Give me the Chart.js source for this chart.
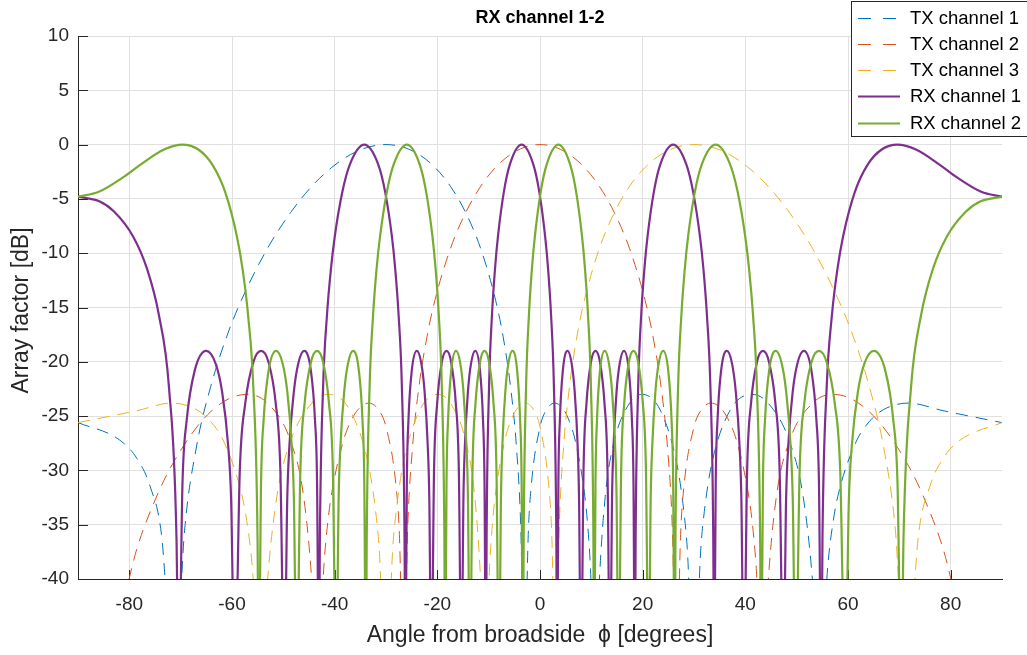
<!DOCTYPE html>
<html><head><meta charset="utf-8">
<script src="https://cdn.jsdelivr.net/npm/chart.js@4.4.0/dist/chart.umd.min.js"></script>
<style>html,body{margin:0;padding:0;background:#fff;}#wrap{width:1027px;height:655px;}</style>
</head><body><div id="wrap"><canvas id="c" width="1027" height="655"></canvas></div>
<script>
const chartTitle = 'RX channel 1-2';
const xTitle = 'Angle from broadside  \u03D5 [degrees]';
const yTitle = 'Array factor [dB]';
const xTicks = [-80,-60,-40,-20,0,20,40,60,80];
const yTicks = [-40,-35,-30,-25,-20,-15,-10,-5,0,5,10];
const seriesNames = ['TX channel 1','TX channel 2','TX channel 3','RX channel 1','RX channel 2'];
const seriesColors = ['#0072BD','#D95319','#EDB120','#7E2F8E','#77AC30'];

const tx1Deg = [-90,-81.89,-78.52,-75.93,-73.74,-71.26,-69.23,-66.93,-64.16,-61.05,-58.21,-53.13,-48.59,-44.43,-40.54,-36.87,-33.37,-30,-26.74,-23.58,-20.49,-17.46,-14.48,-11.54,-8.63,-7.18,-5.74,-4.59,-3.73,-3.04,-2.29,-1.72,0,1.15,2.87,4.59,5.74,6.89,8.63,9.21,9.79,10.78,11.54,12.71,14.48,17.46,19.88,23.58,26.74,28.03,28.69,30,31.33,32.01,33.37,36.87,41.30,44.43,48.59,51.26,53.13,54.39,56.10,57.14,58.21,61.64,64.16,66.93,71.81,78.52,90];
const tx1Db = [-25.6,-27.2,-28.9,-31.5,-35.9,-50,-35.5,-27.85,-22.3,-17.7,-14.37,-9.59,-6.26,-3.83,-2.09,-0.91,-0.22,0,-0.22,-0.91,-2.09,-3.83,-6.26,-9.59,-14.37,-17.7,-22.3,-27.85,-35.5,-50,-35.9,-31.5,-26.0,-24.5,-23.8,-24.4,-25.5,-27.3,-32.0,-34.6,-38.6,-50,-40.4,-32.4,-27.3,-23.8,-23.0,-24.6,-29.6,-33.8,-37.2,-50,-37.2,-33.8,-29.6,-24.6,-23.0,-23.8,-27.3,-32.4,-40.4,-50,-38.6,-34.6,-32.0,-27.3,-25.5,-24.4,-23.8,-24.5,-25.6];

const tx2Deg = [-90,-81.89,-78.52,-75.93,-71.81,-64.16,-57.14,-53.13,-48.59,-46.05,-44.43,-43.39,-42.07,-41.30,-40.54,-38.32,-36.87,-35.45,-33.37,-31.33,-30,-28.03,-27.39,-26.55,-25.79,-24.83,-23.58,-22.02,-20.49,-17.46,-14.48,-11.54,-8.63,-5.74,-2.87,0,2.87,5.74,8.63,11.54,14.48,17.46,20.49,22.02,23.58,24.83,25.79,26.55,27.39,28.03,30,31.33,33.37,35.45,36.87,38.32,40.54,41.30,42.07,43.39,44.43,46.05,48.59,53.13,57.14,64.16,71.81,75.93,78.52,81.89,90];
const tx2Db = [-50,-43.2,-37.2,-33.8,-29.6,-24.6,-23.0,-23.8,-27.3,-32.4,-40.4,-50,-38.6,-34.6,-32.0,-27.3,-25.5,-24.4,-23.8,-24.5,-26.0,-31.5,-35.9,-50,-35.5,-27.85,-22.3,-17.7,-14.37,-9.59,-6.26,-3.83,-2.09,-0.91,-0.22,0,-0.22,-0.91,-2.09,-3.83,-6.26,-9.59,-14.37,-17.7,-22.3,-27.85,-35.5,-50,-35.9,-31.5,-26.0,-24.5,-23.8,-24.4,-25.5,-27.3,-32.0,-34.6,-38.6,-50,-40.4,-32.4,-27.3,-23.8,-23.0,-24.6,-29.6,-33.8,-37.2,-43.2,-50];

const tx3Deg = [-90,-78.52,-71.81,-66.93,-64.16,-61.64,-58.21,-57.14,-56.10,-54.39,-53.13,-51.26,-48.59,-44.43,-41.30,-36.87,-33.37,-32.01,-31.33,-30,-28.69,-28.03,-26.74,-23.58,-19.88,-17.46,-14.48,-12.71,-11.54,-10.78,-9.79,-9.21,-8.63,-6.89,-5.74,-4.59,-2.87,-1.15,0,1.72,2.29,3.04,3.73,4.59,5.74,7.18,8.63,11.54,14.48,17.46,20.49,23.58,26.74,30,33.37,36.87,40.54,44.43,48.59,53.13,58.21,61.05,64.16,66.93,69.23,71.26,73.74,75.93,78.52,81.89,90];
const tx3Db = [-25.6,-24.5,-23.8,-24.4,-25.5,-27.3,-32.0,-34.6,-38.6,-50,-40.4,-32.4,-27.3,-23.8,-23.0,-24.6,-29.6,-33.8,-37.2,-50,-37.2,-33.8,-29.6,-24.6,-23.0,-23.8,-27.3,-32.4,-40.4,-50,-38.6,-34.6,-32.0,-27.3,-25.5,-24.4,-23.8,-24.5,-26.0,-31.5,-35.9,-50,-35.5,-27.85,-22.3,-17.7,-14.37,-9.59,-6.26,-3.83,-2.09,-0.91,-0.22,0,-0.22,-0.91,-2.09,-3.83,-6.26,-9.59,-14.37,-17.7,-22.3,-27.85,-35.5,-50,-35.9,-31.5,-28.9,-27.2,-25.6];

const rx1Deg = [-90,-85.95,-82.98,-79.27,-76.53,-74.26,-72.27,-70.82,-70.39,-69.64,-68.83,-67.29,-65.03,-63.19,-61.95,-60.75,-60.17,-59.45,-58.48,-57.41,-55.84,-54.34,-52.89,-51.49,-50.58,-49.80,-49.24,-48.81,-47.94,-47.10,-45.93,-44.62,-43.83,-43.43,-43.08,-42.88,-42.26,-41.49,-40.73,-39.98,-38.50,-37.05,-34.23,
-31.50,-30.17,-28.85,-28.20,-27.55,-26.90,-26.39,-26.23,-25.94,-25.63,-24.99,-23.99,-23.11,-22.49,-21.87,-21.56,-21.17,-20.64,-20.03,-19.12,-18.21,-17.31,-16.41,-15.81,-15.30,-14.92,-14.63,-14.03,-13.44,-12.62,-11.68,-11.10,-10.81,-10.54,-10.40,-9.93,-9.35,-8.77,-8.19,-7.04,-5.88,-3.58,
-1.29,-0.14,1.00,1.58,2.15,2.72,3.18,3.33,3.58,3.87,4.44,5.37,6.17,6.75,7.33,7.61,7.98,8.48,9.06,9.93,10.81,11.68,12.56,13.15,13.66,14.03,14.33,14.92,15.52,16.35,17.31,17.91,18.21,18.48,18.63,19.12,19.72,20.33,20.95,22.18,23.42,25.94,
28.52,29.83,31.16,31.84,32.51,33.20,33.75,33.92,34.23,34.58,35.27,36.41,37.41,38.13,38.87,39.23,39.70,40.35,41.11,42.26,43.43,44.62,45.85,46.68,47.41,47.94,48.37,49.24,50.13,51.40,52.89,53.85,54.34,54.79,55.03,55.84,56.88,57.94,59.04,61.34,63.83,66.56,69.64,
73.24,77.82,80.93,85.95,90];
const rx1Db = [-4.8,-5.2,-6.16,-8.46,-11.47,-15.65,-22.4,-36.1,-50,-31.1,-25.4,-20.86,-19.0,-20.17,-22.7,-27.7,-32.7,-50,-30.0,-23.8,-20.03,-19.0,-20.03,-23.8,-30.0,-50,-32.7,-27.7,-22.7,-20.17,-19.0,-20.86,-25.4,-31.1,-50,-36.1,-22.4,-15.65,-11.47,-8.46,-4.35,-1.84,0,
-1.84,-4.35,-8.46,-11.47,-15.65,-22.4,-36.1,-50,-31.1,-25.4,-20.86,-19.0,-20.17,-22.7,-27.7,-32.7,-50,-30.0,-23.8,-20.03,-19.0,-20.03,-23.8,-30.0,-50,-32.7,-27.7,-22.7,-20.17,-19.0,-20.86,-25.4,-31.1,-50,-36.1,-22.4,-15.65,-11.47,-8.46,-4.35,-1.84,0,
-1.84,-4.35,-8.46,-11.47,-15.65,-22.4,-36.1,-50,-31.1,-25.4,-20.86,-19.0,-20.17,-22.7,-27.7,-32.7,-50,-30.0,-23.8,-20.03,-19.0,-20.03,-23.8,-30.0,-50,-32.7,-27.7,-22.7,-20.17,-19.0,-20.86,-25.4,-31.1,-50,-36.1,-22.4,-15.65,-11.47,-8.46,-4.35,-1.84,0,
-1.84,-4.35,-8.46,-11.47,-15.65,-22.4,-36.1,-50,-31.1,-25.4,-20.86,-19.0,-20.17,-22.7,-27.7,-32.7,-50,-30.0,-23.8,-20.03,-19.0,-20.03,-23.8,-30.0,-50,-32.7,-27.7,-22.7,-20.17,-19.0,-20.86,-25.4,-31.1,-50,-36.1,-22.4,-15.65,-11.47,-8.46,-4.35,-1.84,-0.45,0,
-0.45,-1.84,-2.93,-4.35,-4.8];

const rx2Deg = [-90,-85.95,-80.93,-77.82,-73.24,
-69.64,-66.56,-63.83,-61.34,-59.04,-57.94,-56.88,-55.84,-55.03,-54.79,-54.34,-53.85,-52.89,-51.40,-50.13,-49.24,-48.37,-47.94,-47.41,-46.68,-45.85,-44.62,-43.43,-42.26,-41.11,-40.35,-39.70,-39.23,-38.87,-38.13,-37.41,-36.41,-35.27,-34.58,-34.23,-33.92,-33.75,-33.20,-32.51,-31.84,-31.16,-29.83,-28.52,
-25.94,-23.42,-22.18,-20.95,-20.33,-19.72,-19.12,-18.63,-18.48,-18.21,-17.91,-17.31,-16.35,-15.52,-14.92,-14.33,-14.03,-13.66,-13.15,-12.56,-11.68,-10.81,-9.93,-9.06,-8.48,-7.98,-7.61,-7.33,-6.75,-6.17,-5.37,-4.44,-3.87,-3.58,-3.33,-3.18,-2.72,-2.15,-1.58,-1.00,0.14,1.29,
3.58,5.88,7.04,8.19,8.77,9.35,9.93,10.40,10.54,10.81,11.10,11.68,12.62,13.44,14.03,14.63,14.92,15.30,15.81,16.41,17.31,18.21,19.12,20.03,20.64,21.17,21.56,21.87,22.49,23.11,23.99,24.99,25.63,25.94,26.23,26.39,26.90,27.55,28.20,28.85,30.17,31.50,
34.23,37.05,38.50,39.98,40.73,41.49,42.26,42.88,43.08,43.43,43.83,44.62,45.93,47.10,47.94,48.81,49.24,49.80,50.58,51.49,52.89,54.34,55.84,57.41,58.48,59.45,60.17,60.75,61.95,63.19,65.03,67.29,68.83,69.64,70.39,70.82,72.27,74.26,76.53,79.27,82.98,85.95,90];
const rx2Db = [-4.8,-4.35,-2.93,-1.84,-0.45,
0,-0.45,-1.84,-4.35,-8.46,-11.47,-15.65,-22.4,-36.1,-50,-31.1,-25.4,-20.86,-19.0,-20.17,-22.7,-27.7,-32.7,-50,-30.0,-23.8,-20.03,-19.0,-20.03,-23.8,-30.0,-50,-32.7,-27.7,-22.7,-20.17,-19.0,-20.86,-25.4,-31.1,-50,-36.1,-22.4,-15.65,-11.47,-8.46,-4.35,-1.84,
0,-1.84,-4.35,-8.46,-11.47,-15.65,-22.4,-36.1,-50,-31.1,-25.4,-20.86,-19.0,-20.17,-22.7,-27.7,-32.7,-50,-30.0,-23.8,-20.03,-19.0,-20.03,-23.8,-30.0,-50,-32.7,-27.7,-22.7,-20.17,-19.0,-20.86,-25.4,-31.1,-50,-36.1,-22.4,-15.65,-11.47,-8.46,-4.35,-1.84,
0,-1.84,-4.35,-8.46,-11.47,-15.65,-22.4,-36.1,-50,-31.1,-25.4,-20.86,-19.0,-20.17,-22.7,-27.7,-32.7,-50,-30.0,-23.8,-20.03,-19.0,-20.03,-23.8,-30.0,-50,-32.7,-27.7,-22.7,-20.17,-19.0,-20.86,-25.4,-31.1,-50,-36.1,-22.4,-15.65,-11.47,-8.46,-4.35,-1.84,
0,-1.84,-4.35,-8.46,-11.47,-15.65,-22.4,-36.1,-50,-31.1,-25.4,-20.86,-19.0,-20.17,-22.7,-27.7,-32.7,-50,-30.0,-23.8,-20.03,-19.0,-20.03,-23.8,-30.0,-50,-32.7,-27.7,-22.7,-20.17,-19.0,-20.86,-25.4,-31.1,-50,-36.1,-22.4,-15.65,-11.47,-8.46,-6.16,-5.2,-4.8];

const FONT = '"Liberation Sans", Arial, Helvetica, sans-serif';
const AX = '#262626';

function pts(xs, ys){ return xs.map((x,i)=>({x:x, y:ys[i]})); }
const allDeg = [tx1Deg, tx2Deg, tx3Deg, rx1Deg, rx2Deg];
const allDb = [tx1Db, tx2Db, tx3Db, rx1Db, rx2Db];
const isTx = [true,true,true,false,false];

const datasets = seriesNames.map((name,i)=>({
  label: name,
  data: pts(allDeg[i], allDb[i]),
  borderColor: seriesColors[i],
  backgroundColor: seriesColors[i],
  borderWidth: isTx[i] ? 1 : 2.2,
  borderDash: isTx[i] ? [12,8] : [],
  cubicInterpolationMode: 'monotone',
  pointRadius: 0,
  fill: false,
  order: 5 - i
}));

const overlay = {
  id: 'overlay',
  beforeDatasetsDraw(chart){
    const ctx = chart.ctx, ca = chart.chartArea, xs = chart.scales.x, ys = chart.scales.y;
    ctx.save();
    ctx.strokeStyle = AX; ctx.lineWidth = 1;
    ctx.beginPath();
    const L = Math.round(ca.left) + 0.5, B = Math.round(ca.bottom) + 0.5;
    yTicks.forEach(v => { const y = Math.round(ys.getPixelForValue(v)) + 0.5; ctx.moveTo(L, y); ctx.lineTo(L + 9.5, y); });
    xTicks.forEach(v => { const x = Math.round(xs.getPixelForValue(v)) + 0.5; ctx.moveTo(x, B); ctx.lineTo(x, B - 9.5); });
    ctx.stroke();
    ctx.restore();
  },
  afterDraw(chart){
    const ctx = chart.ctx, ca = chart.chartArea;
    ctx.save();
    ctx.fillStyle = '#000';
    ctx.font = 'bold 18px ' + FONT;
    ctx.textAlign = 'center'; ctx.textBaseline = 'middle';
    ctx.fillText(chartTitle, (ca.left + ca.right) / 2, 18);
    ctx.fillStyle = AX;
    ctx.font = '23px ' + FONT;
    ctx.fillText(xTitle, (ca.left + ca.right) / 2, 636);
    ctx.save();
    ctx.translate(22, (ca.top + ca.bottom) / 2 + 3);
    ctx.rotate(-Math.PI / 2);
    ctx.fillText(yTitle, 0, 0);
    ctx.restore();
    const lx = 851.5, ly = 1.5, lw = 200, lh = 135;
    ctx.fillStyle = '#fff';
    ctx.fillRect(lx, ly, lw, lh);
    ctx.strokeStyle = AX; ctx.lineWidth = 1;
    ctx.strokeRect(lx, ly, lw, lh);
    const rows = [17.5, 43.8, 70.1, 96.4, 122.7];
    ctx.font = '18.5px ' + FONT;
    ctx.textAlign = 'left'; ctx.textBaseline = 'middle';
    seriesNames.forEach((n, i) => {
      const y = Math.round(rows[i]) + 0.5;
      ctx.beginPath();
      ctx.strokeStyle = seriesColors[i];
      ctx.lineWidth = isTx[i] ? 1 : 2.2;
      ctx.setLineDash(isTx[i] ? [13, 12] : []);
      ctx.moveTo(858, y); ctx.lineTo(900, y);
      ctx.stroke();
      ctx.setLineDash([]);
      ctx.fillStyle = '#000';
      ctx.fillText(n, 910, rows[i] + 1);
    });
    ctx.restore();
  }
};

new Chart(document.getElementById('c'), {
  type: 'line',
  data: { datasets: datasets },
  options: {
    responsive: false,
    animation: false,
    events: [],
    layout: { padding: { top: 36, right: 25, left: 0, bottom: 0 } },
    plugins: { legend: { display: false }, title: { display: false }, tooltip: { enabled: false } },
    scales: {
      x: {
        type: 'linear', min: -90, max: 90,
        afterBuildTicks: s => { s.ticks = xTicks.map(v => ({ value: v })); },
        afterFit: s => { s.height = 76; },
        grid: { color: '#e0e0e0', lineWidth: 1, drawTicks: false },
        border: { color: AX, width: 1 },
        ticks: { color: AX, font: { family: FONT, size: 19 }, padding: 14, maxRotation: 0, autoSkip: false, callback: v => String(v) }
      },
      y: {
        type: 'linear', min: -40, max: 10,
        afterBuildTicks: s => { s.ticks = yTicks.map(v => ({ value: v })); },
        afterFit: s => { s.width = 78; },
        grid: { color: '#e0e0e0', lineWidth: 1, drawTicks: false },
        border: { color: AX, width: 1 },
        ticks: { color: AX, font: { family: FONT, size: 19 }, padding: 9, autoSkip: false, callback: v => String(v) }
      }
    }
  },
  plugins: [overlay]
});
</script>
</body></html>
